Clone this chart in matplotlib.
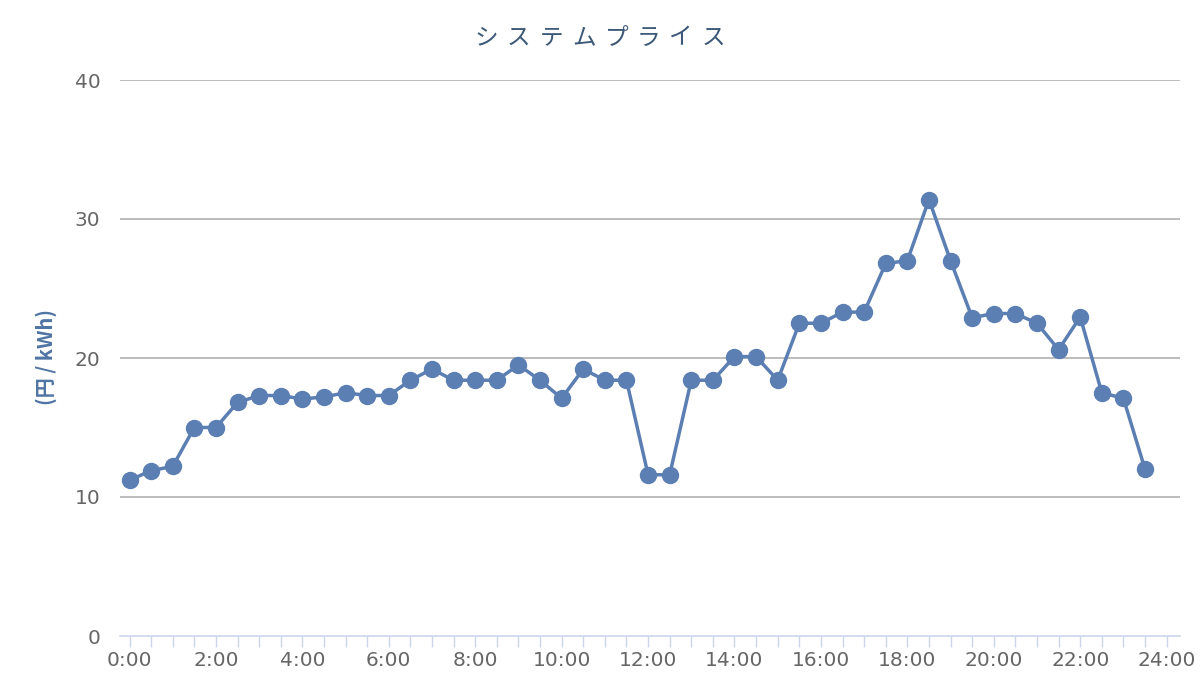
# システムプライス の折れ線グラフ

import matplotlib
matplotlib.use('Agg')
import matplotlib.pyplot as plt

plt.rcParams['font.family'] = ['DejaVu Sans', 'Noto Sans CJK JP']

# 30分ごとの価格 (円/kWh)
times = [f'{h}:{m:02d}' for h in range(24) for m in (0, 30)]
prices = [11.2, 11.9, 12.2, 15.0, 15.0, 16.8, 17.3, 17.3, 17.05, 17.2,
          17.5, 17.3, 17.3, 18.4, 19.2, 18.4, 18.4, 18.4, 19.5, 18.4,
          17.1, 19.2, 18.4, 18.4, 11.6, 11.6, 18.4, 18.4, 20.1, 20.1,
          18.4, 22.5, 22.5, 23.3, 23.3, 26.8, 27.0, 31.4, 27.0, 22.9,
          23.2, 23.2, 22.5, 20.6, 22.95, 17.5, 17.1, 12.0]
tick_labels = [f'{h}:00' for h in range(0, 25, 2)]
y_ticks = [0, 10, 20, 30, 40]
title = 'システムプライス'
y_label = '(円 / kWh)'

line_color = '#5b7fb3'

fig = plt.figure(figsize=(12, 7), dpi=100)
ax = fig.add_axes([0.1, 1 - 636 / 700, 0.883, (636 - 80) / 700])

x = list(range(len(prices)))
ax.plot(x, prices, color=line_color, linewidth=2.5, marker='o',
        markersize=11.5, zorder=3, clip_on=False)

ax.set_xlim(-0.44, 48.6)
ax.set_ylim(0, 40)

# x軸: 30分ごとに目盛り、2時間ごとにラベル
ax.set_xticks(range(49))
ax.set_xticklabels([tick_labels[i // 4] if i % 4 == 0 else '' for i in range(49)])
ax.tick_params(axis='x', length=8, width=1, color='#ccd6eb',
               labelsize=14.5, labelcolor='#666666', pad=3)

ax.set_yticks(y_ticks)
ax.tick_params(axis='y', length=0, labelsize=14.5, labelcolor='#666666', pad=14)

for v in y_ticks[1:]:
    ax.axhline(v, color='#bcbcbc', linewidth=1.4, zorder=1)

for s in ['top', 'right', 'left']:
    ax.spines[s].set_visible(False)
ax.spines['bottom'].set_color('#ccd6eb')
ax.spines['bottom'].set_linewidth(1.2)

# タイトル (文字間隔を広げて1文字ずつ配置)
step = 32.5 / 1200
x0 = 0.5 - step * (len(title) - 1) / 2
for i, ch in enumerate(title):
    fig.text(x0 + i * step, 1 - 38 / 700, ch, ha='center', va='center',
             fontsize=17, color='#3b5876', family=['Noto Sans CJK JP'])

fig.text(46 / 1200, 1 - 357 / 700, y_label, rotation=90, ha='center',
         va='center', fontsize=14.5, fontweight='bold', color='#4f74a3',
         family=['Noto Sans CJK JP', 'DejaVu Sans'])

fig.savefig('out.png', dpi=100)
